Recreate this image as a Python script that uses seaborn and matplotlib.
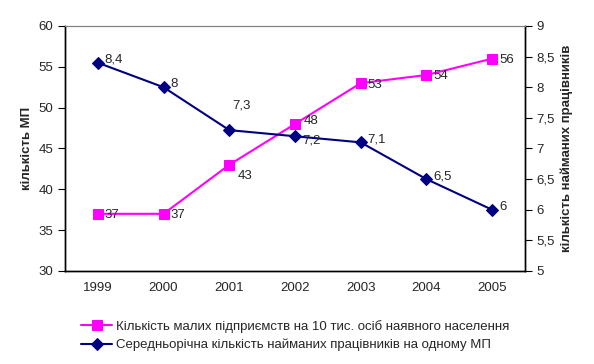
import pandas as pd
import matplotlib
matplotlib.use("Agg")
import matplotlib.pyplot as plt
import seaborn as sns

years = [1999, 2000, 2001, 2002, 2003, 2004, 2005]
small_firms = [37, 37, 43, 48, 53, 54, 56]
employees = [8.4, 8.0, 7.3, 7.2, 7.1, 6.5, 6.0]

label_firms = "Кількість малих підприємств на 10 тис. осіб наявного населення"
label_empl = "Середньорічна кількість найманих працівників на одному МП"

df = pd.DataFrame({"year": years, "firms": small_firms, "empl": employees})

sns.set_style("white")
plt.rcParams["font.family"] = ["Liberation Sans", "DejaVu Sans"]
plt.rcParams["font.size"] = 9.5

fig = plt.figure(figsize=(5.94, 3.64), dpi=100)
ax = fig.add_axes([0.1094, 0.2555, 0.7744, 0.6731])
ax2 = ax.twinx()

sns.lineplot(data=df, x="year", y="firms", ax=ax, color="#ff00ff", marker="s",
             markersize=7.5, markeredgecolor="#ff00ff", linewidth=1.5, label=label_firms, legend=False)
sns.lineplot(data=df, x="year", y="empl", ax=ax2, color="#000080", marker="D",
             markersize=6, markeredgecolor="#000080", linewidth=1.5, label=label_empl, legend=False)

# data labels
firm_off = {2001: (6, -8), 2002: (6, 2)}
for yr, v in zip(years, small_firms):
    dx, dy = firm_off.get(yr, (5, -1))
    ax.annotate(str(v), (yr, v), xytext=(dx, dy), textcoords="offset points",
                ha="left", va="center")
empl_off = {2001: (2, 18), 2002: (5, -3)}
for yr, v in zip(years, employees):
    dx, dy = empl_off.get(yr, (5, 2))
    txt = f"{v:g}".replace(".", ",")
    ax2.annotate(txt, (yr, v), xytext=(dx, dy), textcoords="offset points",
                 ha="left", va="center")

ax.set_xlim(1998.5, 2005.5)
ax.set_ylim(30, 60)
ax.set_yticks(range(30, 61, 5))
ax2.set_ylim(5, 9)
ax2.set_yticks([5, 5.5, 6, 6.5, 7, 7.5, 8, 8.5, 9])
ax2.set_yticklabels([f"{t:g}".replace(".", ",") for t in ax2.get_yticks()])

ax.set_xticks(years)
ax.set_xticks([y + 0.5 for y in [1998] + years], minor=True)
ax.tick_params(axis="x", which="major", length=0, pad=8)
ax.tick_params(axis="x", which="minor", length=5, direction="out", color="black")
ax.tick_params(axis="y", length=5, direction="out", color="black", left=True)
ax2.tick_params(axis="y", length=5, direction="out", color="black", right=True)

ax.set_xlabel("")
ax.set_ylabel("кількість МП", fontweight="bold")
ax2.set_ylabel("кількість найманих працівників", fontweight="bold")

for a in (ax, ax2):
    for side in ("left", "right", "bottom"):
        a.spines[side].set_color("black")
        a.spines[side].set_linewidth(1)
    a.spines["top"].set_color("#808080")

handles = ax.get_lines()[:1] + ax2.get_lines()[:1]
fig.legend(handles, [label_firms, label_empl], loc="center", bbox_to_anchor=(0.497, 0.078),
           frameon=False, handlelength=2.3, handletextpad=0.3, labelspacing=0.45)

fig.savefig("out.png", dpi=100)
